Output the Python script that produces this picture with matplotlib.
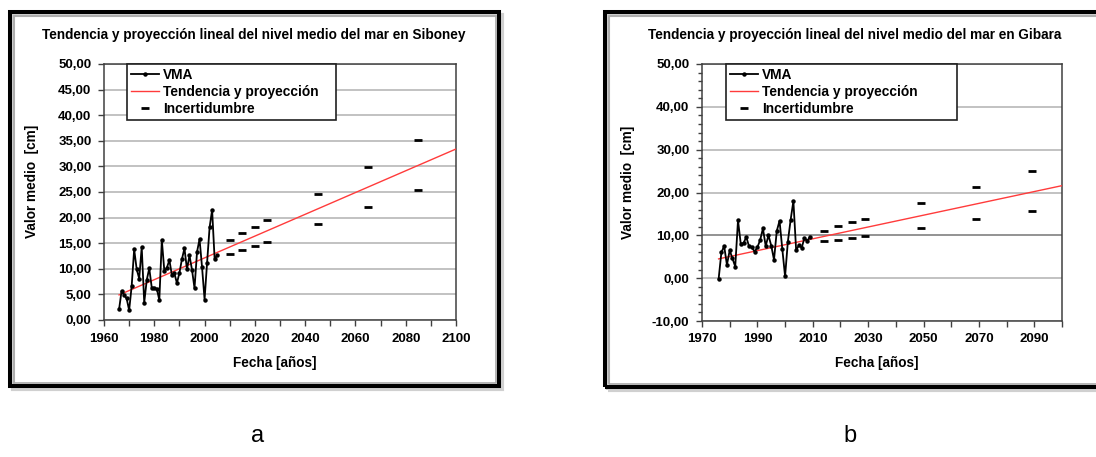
import numpy as np
import matplotlib
matplotlib.use('Agg')
import matplotlib.pyplot as plt
from matplotlib.patches import Rectangle
from matplotlib.lines import Line2D
from matplotlib.ticker import MultipleLocator, FuncFormatter

plt.rcParams['font.family'] = ['Liberation Sans', 'DejaVu Sans']
plt.rcParams['font.weight'] = 'bold'

# --- Siboney (a) ---
sib_years = list(range(1966, 2006))
sib_vma = [2.1, 5.7, 4.9, 4.2, 1.9, 6.6, 13.8, 9.9, 8.1, 14.2,
           3.4, 7.8, 10.1, 6.3, 6.3, 6.1, 3.9, 15.6, 9.6, 10.2,
           11.7, 8.8, 9.1, 7.2, 9.2, 11.9, 14.0, 9.9, 12.6, 9.8,
           6.2, 13.3, 15.8, 10.3, 4.0, 11.2, 18.1, 21.5, 11.9, 12.6]
sib_trend_years = [1966, 2100]
sib_trend = [4.9, 33.4]
sib_unc_years = [2010, 2015, 2020, 2025, 2045, 2065, 2085]
sib_unc_high = [15.6, 16.9, 18.2, 19.5, 24.6, 29.9, 35.2]
sib_unc_low = [12.9, 13.7, 14.5, 15.3, 18.7, 22.0, 25.4]

# --- Gibara (b) ---
gib_years = list(range(1976, 2010))
gib_vma = [-0.2, 6.0, 7.5, 3.1, 6.5, 4.6, 2.7, 13.5, 8.0, 8.2,
           9.6, 7.4, 7.2, 6.2, 7.2, 8.9, 11.6, 7.5, 10.0, 7.6,
           4.3, 11.0, 13.4, 6.8, 0.4, 8.5, 13.6, 18.0, 6.5, 7.7,
           7.1, 9.4, 8.7, 9.7]
gib_trend_years = [1976, 2100]
gib_trend = [4.5, 21.6]
gib_unc_years = [2014, 2019, 2024, 2029, 2049, 2069, 2089]
gib_unc_high = [11.1, 12.1, 13.1, 13.8, 17.5, 21.2, 25.0]
gib_unc_low = [8.6, 9.0, 9.4, 9.9, 11.8, 13.7, 15.6]

W, H = 1096, 457
fig = plt.figure(figsize=(W / 100, H / 100), dpi=100)


def px_rect(x0, y0, x1, y1, **kw):
    # rectangle given in image pixels (origin top-left)
    r = Rectangle((x0 / W, 1 - y1 / H), (x1 - x0) / W, (y1 - y0) / H,
                  transform=fig.transFigure, fill=False, **kw)
    fig.add_artist(r)


def frame(x0, y0, x1, y1):
    px_rect(x0 + 3, y0 + 3, x1 + 3, y1 + 3, lw=3, edgecolor='#d0d0d0')
    px_rect(x0, y0, x1, y1, lw=2.9, edgecolor='black')
    px_rect(x0 + 3.5, y0 + 3.5, x1 - 3.5, y1 - 3.5, lw=1.2, edgecolor='#a8a8a8')


frame(10, 12, 499, 386)
frame(605, 12, 1110, 387)

comma = FuncFormatter(lambda v, p: f'{v:.2f}'.replace('.', ','))


def panel(rect, title, years, vma, ty, tv, uy, uh, ul, xlim, ylim,
          ymaj, ymin, xlabels, leg_box, ylab_xy, xlab_xy, title_x):
    ax = fig.add_axes(rect)
    ax.plot(ty, tv, color='#ff3b3b', lw=1.0, zorder=3)
    ax.plot(years, vma, color='black', lw=1.3, marker='o', ms=2.2, zorder=4)
    ax.plot(uy, uh, ls='none', marker='_', ms=6, mew=2.0, color='black', zorder=4)
    ax.plot(uy, ul, ls='none', marker='_', ms=6, mew=2.0, color='black', zorder=4)
    ax.set_xlim(*xlim)
    ax.set_ylim(*ylim)
    ax.yaxis.set_major_locator(MultipleLocator(ymaj))
    if ymin:
        ax.yaxis.set_minor_locator(MultipleLocator(ymin))
    ax.yaxis.set_major_formatter(comma)
    ax.set_xticks(xlabels)
    ax.xaxis.set_minor_locator(MultipleLocator(10))
    ax.grid(axis='y', color='#b8b8b8', lw=1.2)
    ax.set_axisbelow(True)
    for s in ax.spines.values():
        s.set_color('#404040')
        s.set_linewidth(1.1)
    ax.tick_params(which='major', length=4, width=1, color='#404040', pad=5, labelsize=9.5)
    ax.tick_params(which='minor', length=3, width=1, color='#404040')
    ax.tick_params(axis='x', which='minor', length=4)
    ax.set_ylabel('Valor medio  [cm]', fontsize=9.8, fontweight='bold')
    ax.yaxis.set_label_coords(*ylab_xy)
    ax.yaxis.label.set_va('center')
    ax.set_xlabel('Fecha [años]', fontsize=9.8, fontweight='bold')
    ax.xaxis.set_label_coords(*xlab_xy)
    ax.xaxis.label.set_va('center')
    fig.text(title_x, 1 - 35 / H, title, ha='center', va='center',
             fontsize=9.8, fontweight='bold')
    handles = [
        Line2D([], [], color='black', lw=1.3, marker='o', ms=2.2),
        Line2D([], [], color='#ff3b3b', lw=1.0),
        Line2D([], [], ls='none', marker='_', ms=6, mew=2.0, color='black'),
    ]
    leg = ax.legend(handles, ['VMA', 'Tendencia y proyección', 'Incertidumbre'],
                    loc='upper left', bbox_to_anchor=leg_box, mode='expand',
                    borderaxespad=0, fancybox=False, framealpha=1, edgecolor='#202020',
                    prop={'size': 9.9, 'weight': 'bold'}, handlelength=2.0,
                    labelspacing=0.22, borderpad=0.3, handletextpad=0.3)
    leg.get_frame().set_linewidth(1.2)
    return ax


panel([104 / W, 1 - 320 / H, 352 / W, 256 / H],
      'Tendencia y proyección lineal del nivel medio del mar en Siboney',
      sib_years, sib_vma, sib_trend_years, sib_trend,
      sib_unc_years, sib_unc_high, sib_unc_low,
      (1960, 2100), (0, 50), 5, None, list(range(1960, 2101, 20)),
      (0.065, 0.0, 0.594, 1.0), (-0.205, 0.54), (0.486, -0.168), 253.5 / W)

ax_b = panel([702 / W, 1 - 321 / H, 360 / W, 257 / H],
             'Tendencia y proyección lineal del nivel medio del mar en Gibara',
             gib_years, gib_vma, gib_trend_years, gib_trend,
             gib_unc_years, gib_unc_high, gib_unc_low,
             (1970, 2100), (-10, 50), 10, 2, list(range(1970, 2091, 20)),
             (0.067, 0.0, 0.642, 1.0), (-0.206, 0.541), (0.486, -0.163), 855 / W)
# the 10,00 gridline is darker in the original
ax_b.axhline(10, color='#8c8c8c', lw=1.2, zorder=1)

fig.text(258 / W, 1 - 436 / H, 'a', ha='center', va='center', fontsize=17, fontweight='normal')
fig.text(850 / W, 1 - 436 / H, 'b', ha='center', va='center', fontsize=17, fontweight='normal')

fig.savefig('out.png', dpi=100)
